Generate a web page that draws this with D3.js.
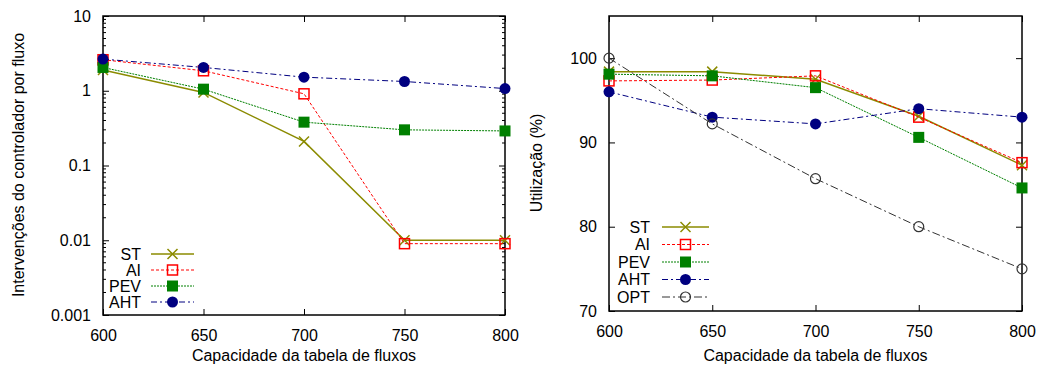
<!DOCTYPE html>
<html>
<head>
<meta charset="utf-8">
<script src="https://cdn.jsdelivr.net/npm/d3@7"></script>
<style>
  body { margin: 0; background: #fff; }
  svg { font-family: "Liberation Sans", Arial, sans-serif; }
</style>
</head>
<body>
<div id="chart"></div>
<script>
/** data **/
let capacities = [600, 650, 700, 750, 800];

// left: controller interventions per flow (log scale)
let stInterv  = [1.9, 0.95, 0.21, 0.01, 0.01];
let aiInterv  = [2.6, 1.85, 0.91, 0.009, 0.009];
let pevInterv = [2.05, 1.05, 0.38, 0.30, 0.29];
let ahtInterv = [2.65, 2.05, 1.52, 1.33, 1.07];

// right: utilization (%)
let stUtil  = [98.4, 98.4, 97.5, 93.1, 87.3];
let aiUtil  = [97.3, 97.4, 97.9, 93.0, 87.6];
let pevUtil = [98.1, 97.9, 96.5, 90.6, 84.6];
let ahtUtil = [96.0, 93.0, 92.2, 94.0, 93.0];
let optUtil = [100, 92.2, 85.7, 80.0, 75.0];

let logTicks = [0.001, 0.01, 0.1, 1, 10];
let logTickLabels = ["0.001", "0.01", "0.1", "1", "10"];
let utilTicks = [70, 80, 90, 100];

let styles = {
  ST:  {color: "#8b8b00", dash: null,        marker: "cross",  width: 1.5},
  AI:  {color: "#ff0000", dash: "3,2",       marker: "square", width: 1},
  PEV: {color: "#008000", dash: "2,1",       marker: "fsquare", width: 1},
  AHT: {color: "#000080", dash: "6,3,2,3",   marker: "fcircle", width: 1},
  OPT: {color: "#333333", dash: "8,3,2,3",   marker: "circle", width: 1}
};

let fontSize = 16;

let svg = d3.select("#chart").append("svg")
    .attr("width", 1043)
    .attr("height", 369);

/**
* drawMarker
* Draws a point symbol centred on x,y
*/
function drawMarker(g, kind, x, y, color) {
  if (kind === "cross") {
    g.append("path")
      .attr("d", "M" + (x - 5) + "," + (y - 5) + "L" + (x + 5) + "," + (y + 5) +
                 "M" + (x - 5) + "," + (y + 5) + "L" + (x + 5) + "," + (y - 5))
      .attr("stroke", color).attr("stroke-width", 1.5).attr("fill", "none");
  } else if (kind === "square") {
    g.append("rect").attr("x", x - 5).attr("y", y - 5).attr("width", 10).attr("height", 10)
      .attr("fill", "none").attr("stroke", color).attr("stroke-width", 1.5);
  } else if (kind === "fsquare") {
    g.append("rect").attr("x", x - 5.5).attr("y", y - 5.5).attr("width", 11).attr("height", 11)
      .attr("fill", color);
  } else if (kind === "fcircle") {
    g.append("circle").attr("cx", x).attr("cy", y).attr("r", 5.5).attr("fill", color);
  } else if (kind === "circle") {
    g.append("circle").attr("cx", x).attr("cy", y).attr("r", 5)
      .attr("fill", "none").attr("stroke", color).attr("stroke-width", 1.2);
  }
}

/**
* panel
* Builds one gnuplot-like panel
*/
function panel(opts) {
  let g = svg.append("g");
  let x = d3.scaleLinear().domain([600, 800]).range([opts.left, opts.right]);
  let y = opts.y;

  // axes with inward ticks, mirrored
  let xBottom = d3.axisBottom(x).tickValues(capacities).tickSize(-6).tickPadding(15).tickFormat(d3.format("d"));
  let xTop = d3.axisTop(x).tickValues(capacities).tickSize(-6).tickFormat("");
  let yLeft = d3.axisLeft(y).tickValues(opts.ticks).tickSize(-6).tickPadding(12)
      .tickFormat(function(d, i) { return opts.labels[i]; });
  let yRight = d3.axisRight(y).tickValues(opts.ticks).tickSize(-6).tickFormat("");

  [[xBottom, "translate(0," + opts.bottom + ")"],
   [xTop, "translate(0," + opts.top + ")"],
   [yLeft, "translate(" + opts.left + ",0)"],
   [yRight, "translate(" + opts.right + ",0)"]].forEach(function(a) {
    let ag = g.append("g").attr("transform", a[1]).call(a[0]);
    ag.select(".domain").remove();
    ag.selectAll("line").attr("stroke", "#000");
    ag.selectAll("text").attr("font-size", fontSize).attr("fill", "#000")
      .attr("font-family", "Liberation Sans, Arial, sans-serif");
  });

  // minor ticks
  if (opts.minor) {
    opts.minor.forEach(function(v) {
      g.append("line").attr("x1", opts.left).attr("x2", opts.left + 3)
        .attr("y1", y(v)).attr("y2", y(v)).attr("stroke", "#000");
      g.append("line").attr("x1", opts.right).attr("x2", opts.right - 3)
        .attr("y1", y(v)).attr("y2", y(v)).attr("stroke", "#000");
    });
  }

  // frame
  g.append("rect")
    .attr("x", opts.left).attr("y", opts.top)
    .attr("width", opts.right - opts.left).attr("height", opts.bottom - opts.top)
    .attr("fill", "none").attr("stroke", "#000").attr("stroke-width", 1.5);

  // series
  let line = d3.line().x(function(d, i) { return x(capacities[i]); }).y(function(d) { return y(d); });
  opts.series.forEach(function(s) {
    let st = styles[s.name];
    g.append("path").datum(s.values)
      .attr("d", line)
      .attr("fill", "none")
      .attr("stroke", st.color)
      .attr("stroke-width", st.width)
      .attr("stroke-dasharray", st.dash);
    s.values.forEach(function(v, i) {
      drawMarker(g, st.marker, x(capacities[i]), y(v), st.color);
    });
  });

  // legend
  opts.series.forEach(function(s, i) {
    let st = styles[s.name];
    let ly = opts.legendY + i * opts.legendStep;
    g.append("text").attr("x", opts.legendX).attr("y", ly).attr("dy", "0.35em")
      .attr("text-anchor", "end").attr("font-size", fontSize).text(s.name);
    g.append("line")
      .attr("x1", opts.legendX + opts.legendLine[0]).attr("x2", opts.legendX + opts.legendLine[1])
      .attr("y1", ly).attr("y2", ly)
      .attr("stroke", st.color).attr("stroke-width", st.width)
      .attr("stroke-dasharray", st.dash);
    drawMarker(g, st.marker, opts.legendX + (opts.legendLine[0] + opts.legendLine[1]) / 2, ly, st.color);
  });

  // axis titles
  g.append("text")
    .attr("x", (opts.left + opts.right) / 2).attr("y", 361)
    .attr("text-anchor", "middle").attr("font-size", fontSize)
    .text("Capacidade da tabela de fluxos");
  g.append("text")
    .attr("transform", "translate(" + opts.yTitleX + "," + opts.yTitleY + ") rotate(-90)")
    .attr("text-anchor", "middle").attr("dy", "0.35em").attr("font-size", fontSize)
    .text(opts.yTitle);
}

/* left panel */
let minorLog = [];
[0.001, 0.01, 0.1, 1].forEach(function(base) {
  for (let k = 2; k <= 9; k++) minorLog.push(base * k);
});

panel({
  left: 103, right: 505, top: 16, bottom: 315,
  y: d3.scaleLog().domain([0.001, 10]).range([315, 16]),
  ticks: logTicks, labels: logTickLabels, minor: minorLog,
  series: [
    {name: "ST", values: stInterv},
    {name: "AI", values: aiInterv},
    {name: "PEV", values: pevInterv},
    {name: "AHT", values: ahtInterv}
  ],
  legendX: 141, legendY: 254, legendStep: 16, legendLine: [10, 53],
  yTitle: "Intervenções do controlador por fluxo", yTitleX: 18, yTitleY: 165
});

/* right panel */
panel({
  left: 609, right: 1022, top: 16, bottom: 311,
  y: d3.scaleLinear().domain([70, 105]).range([311, 16]),
  ticks: utilTicks, labels: utilTicks.map(String), minor: null,
  series: [
    {name: "ST", values: stUtil},
    {name: "AI", values: aiUtil},
    {name: "PEV", values: pevUtil},
    {name: "AHT", values: ahtUtil},
    {name: "OPT", values: optUtil}
  ],
  legendX: 650, legendY: 227, legendStep: 17.5, legendLine: [12, 59],
  yTitle: "Utilização (%)", yTitleX: 536, yTitleY: 163
});
</script>
</body>
</html>
